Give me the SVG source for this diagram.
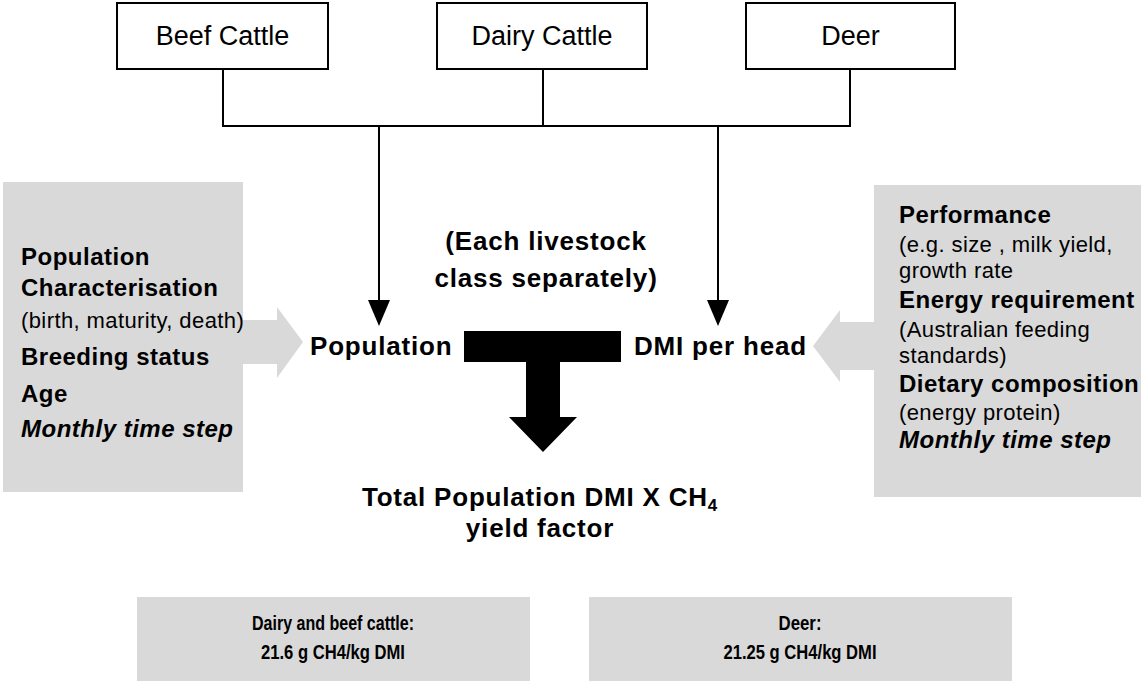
<svg xmlns="http://www.w3.org/2000/svg" width="1145" height="681" viewBox="0 0 1145 681">
<defs>
<style>
.box{fill:#ffffff;stroke:#000;stroke-width:2}
.grey{fill:#d9d9d9}
.lbl{font-family:"Liberation Sans",Arial,sans-serif;font-size:27px;fill:#000}
.b{font-family:"Liberation Sans",Arial,sans-serif;font-size:24px;font-weight:bold;letter-spacing:0.5px;fill:#000}
.bc{font-family:"Liberation Sans",Arial,sans-serif;font-size:26px;font-weight:bold;letter-spacing:0.8px;fill:#000}
.r{font-family:"Liberation Sans",Arial,sans-serif;font-size:22px;letter-spacing:0.4px;fill:#000}
.bi{font-family:"Liberation Sans",Arial,sans-serif;font-size:24px;font-weight:bold;font-style:italic;letter-spacing:0.5px;fill:#000}
.cal{font-family:"Liberation Sans",Arial,sans-serif;font-size:21px;font-weight:bold;fill:#000}
.line{fill:none;stroke:#000;stroke-width:2}
</style>
</defs>
<g id="beef"><rect class="box" x="117" y="3" width="211" height="66"/><text class="lbl" x="222.5" y="45" text-anchor="middle">Beef Cattle</text></g>
<g id="dairy"><rect class="box" x="437" y="3" width="210" height="66"/><text class="lbl" x="542" y="45" text-anchor="middle">Dairy Cattle</text></g>
<g id="deer"><rect class="box" x="746" y="3" width="209" height="66"/><text class="lbl" x="850.5" y="45" text-anchor="middle">Deer</text></g>
<g id="connectors">
<path class="line" d="M223,69 V126 H850 V69 M543,69 V126"/>
<path class="line" d="M379,126 V300"/>
<path d="M368,300 L390,300 L379,326 Z" fill="#000"/>
<path class="line" d="M718,126 V300"/>
<path d="M707,300 L729,300 L718,326 Z" fill="#000"/>
<path id="t-arrow" d="M464,331 H621 V362 H560 V417 H577 L543,452 L509,417 H526 V362 H464 Z" fill="#000"/>
<path id="left-arrow" class="grey" d="M243,320 H277 V307 L303,342 L277,378 V364 H243 Z"/>
<path id="right-arrow" class="grey" d="M874,322 H840 V310 L813,346 L840,382 V370 H874 Z"/>
</g>
<g id="popchar">
<rect class="grey" x="3" y="182" width="240" height="310"/>
<text class="b" x="21" y="265">Population</text>
<text class="b" x="21" y="296">Characterisation</text>
<text class="r" x="21" y="328">(birth, maturity, death)</text>
<text class="b" x="21" y="365">Breeding status</text>
<text class="b" x="21" y="402">Age</text>
<text class="bi" x="21" y="437">Monthly time step</text>
</g>
<g id="perf">
<rect class="grey" x="874" y="185" width="267" height="312"/>
<text class="b" x="899" y="223">Performance</text>
<text class="r" x="899" y="252">(e.g. size , milk yield,</text>
<text class="r" x="899" y="278">growth rate</text>
<text class="b" x="899" y="308">Energy requirement</text>
<text class="r" x="899" y="337">(Australian feeding</text>
<text class="r" x="899" y="363">standards)</text>
<text class="b" x="899" y="392">Dietary composition</text>
<text class="r" x="899" y="420">(energy protein)</text>
<text class="bi" x="899" y="448">Monthly time step</text>
</g>
<g id="note"><text class="bc" x="546" y="250" text-anchor="middle">(Each livestock</text><text class="bc" x="546" y="287" text-anchor="middle">class separately)</text></g>
<g id="population"><text class="bc" x="310" y="355">Population</text></g>
<g id="dmi"><text class="bc" x="634" y="355">DMI per head</text></g>
<g id="total"><text class="bc" x="540" y="506" text-anchor="middle">Total Population DMI X CH<tspan font-size="17" dy="5">4</tspan></text><text class="bc" x="540" y="537" text-anchor="middle">yield factor</text></g>
<g id="cattle-factor"><rect class="grey" x="137" y="597" width="393" height="90"/><text class="cal" x="333" y="630" text-anchor="middle" textLength="162" lengthAdjust="spacingAndGlyphs">Dairy and beef cattle:</text><text class="cal" x="333" y="659" text-anchor="middle" textLength="144" lengthAdjust="spacingAndGlyphs">21.6 g CH4/kg  DMI</text></g>
<g id="deer-factor"><rect class="grey" x="589" y="597" width="423" height="90"/><text class="cal" x="800" y="630" text-anchor="middle" textLength="43" lengthAdjust="spacingAndGlyphs">Deer:</text><text class="cal" x="800" y="659" text-anchor="middle" textLength="153" lengthAdjust="spacingAndGlyphs">21.25 g CH4/kg  DMI</text></g>
</svg>
